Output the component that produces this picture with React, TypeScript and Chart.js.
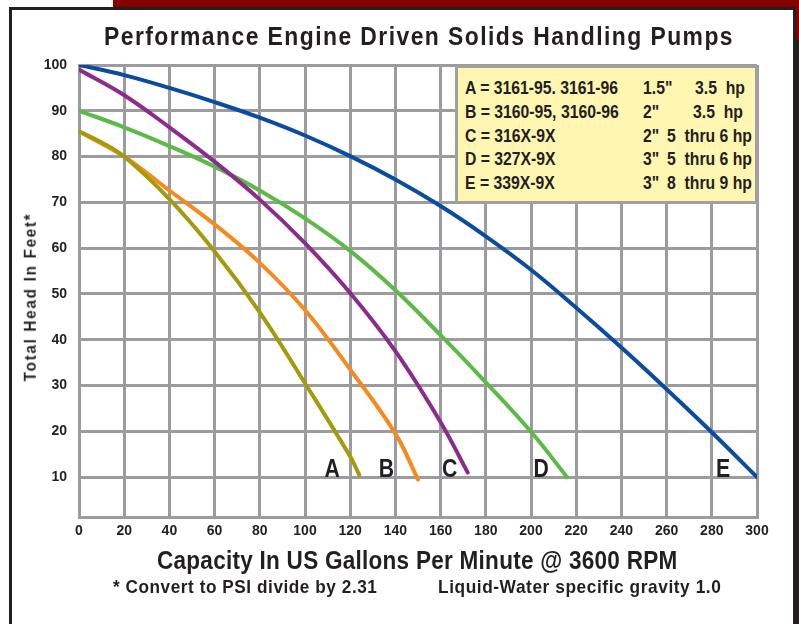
import React, { useEffect, useLayoutEffect, useRef } from 'react';
import { Chart, registerables } from 'chart.js';

Chart.register(...registerables);

// ---------- data ----------
const X_TICKS = [0, 20, 40, 60, 80, 100, 120, 140, 160, 180, 200, 220, 240, 260, 280, 300];
const Y_TICKS = [10, 20, 30, 40, 50, 60, 70, 80, 90, 100];

const A_X = [0, 10, 20, 40, 60, 80, 100, 120, 124];
const A_Y = [85.5, 83.1, 80, 70.7, 59.3, 46, 30.5, 14.5, 10.5];

const B_X = [0, 20, 40, 60, 80, 100, 120, 140, 150];
const B_Y = [85.5, 80, 72.6, 65.2, 56.8, 46.5, 33.5, 19.5, 9.5];

const C_X = [0, 20, 40, 60, 80, 100, 120, 140, 160, 172];
const C_Y = [99, 93.4, 86.4, 78.9, 70.6, 61.1, 50.2, 37.5, 22, 11];

const D_X = [0, 20, 40, 60, 80, 100, 120, 140, 160, 180, 200, 216];
const D_Y = [90, 86.4, 82.3, 77.8, 72.6, 66.5, 59.4, 50.8, 41, 30.7, 19.9, 10];

const E_X = [0, 20, 40, 60, 80, 100, 120, 140, 160, 180, 200, 220, 240, 260, 280, 300];
const E_Y = [100, 97.8, 95, 91.9, 88.5, 84.6, 80.1, 75, 69.2, 62.6, 55.3, 47, 38.3, 29.2, 19.8, 10];

const CURVE_NAMES = ['A', 'B', 'C', 'D', 'E'];
const CURVE_LABEL_X = [112, 136, 164, 204.5, 285];
const CURVE_LABEL_Y = 10;

const LEGEND_MODELS = ['A = 3161-95. 3161-96', 'B = 3160-95, 3160-96', 'C = 316X-9X', 'D = 327X-9X', 'E = 339X-9X'];
const LEGEND_SIZES = ['1.5"', '2"', '2"', '3"', '3"'];
const LEGEND_HP = ['3.5  hp', '3.5  hp', '5  thru 6 hp', '5  thru 6 hp', '8  thru 9 hp'];

const TITLE = 'Performance Engine Driven Solids Handling Pumps';
const X_TITLE = 'Capacity In US Gallons Per Minute @ 3600 RPM';
const Y_TITLE = 'Total Head In Feet*';
const NOTE_1 = '* Convert to PSI divide by 2.31';
const NOTE_2 = 'Liquid-Water specific gravity 1.0';

// ---------- styles ----------
const FONT = "'Liberation Sans', Arial, Helvetica, sans-serif";
const TEXT = '#231f20';
const GRID = '#9c9ca0';
const COLORS = ['#a39b0a', '#f68a1f', '#8c2a8e', '#5cba46', '#0a4c9f'];

const toPoints = (xs: number[], ys: number[]) => xs.map((x, i) => ({ x, y: ys[i] }));

const curveLabelPlugin = {
  id: 'curveLabels',
  afterDatasetsDraw(chart: any) {
    const { ctx, scales } = chart;
    const xs = scales.x;
    const ys = scales.y;
    ctx.save();
    ctx.font = `bold 25px ${FONT}`;
    ctx.fillStyle = TEXT;
    ctx.textAlign = 'center';
    ctx.textBaseline = 'alphabetic';
    CURVE_NAMES.forEach((t, i) => {
      ctx.save();
      ctx.translate(xs.getPixelForValue(CURVE_LABEL_X[i]), ys.getPixelForValue(CURVE_LABEL_Y) - 0.5);
      ctx.scale(0.85, 1);
      ctx.fillText(t, 0, 0);
      ctx.restore();
    });
    ctx.restore();
  },
};

type FitProps = {
  text: string;
  left: number;
  baseline: number;
  width: number;
  size: number;
  spacing?: number;
};

function FitText({ text, left, baseline, width, size, spacing = 0 }: FitProps) {
  const ref = useRef<HTMLSpanElement>(null);
  useLayoutEffect(() => {
    const el = ref.current;
    if (!el) return;
    const w = el.offsetWidth - spacing;
    el.style.transform = `scaleX(${width / w})`;
  }, [text, width, spacing]);
  return (
    <span
      ref={ref}
      style={{
        position: 'absolute',
        left,
        top: baseline - 0.8465 * size,
        fontSize: size,
        lineHeight: `${size}px`,
        letterSpacing: spacing,
        whiteSpace: 'pre',
        transformOrigin: '0 0',
      }}
    >
      {text}
    </span>
  );
}

function RotatedFitText({ text, cx, cy, length, size, spacing = 0 }: { text: string; cx: number; cy: number; length: number; size: number; spacing?: number }) {
  const ref = useRef<HTMLSpanElement>(null);
  useLayoutEffect(() => {
    const el = ref.current;
    if (!el) return;
    const w = el.offsetWidth - spacing;
    el.style.transform = `translate(-50%, -50%) rotate(-90deg) scaleX(${length / w})`;
  }, [text, length, spacing]);
  return (
    <span
      ref={ref}
      style={{
        position: 'absolute',
        left: cx,
        top: cy,
        fontSize: size,
        lineHeight: `${size * 1.15}px`,
        letterSpacing: spacing,
        whiteSpace: 'pre',
        transform: 'translate(-50%, -50%) rotate(-90deg)',
      }}
    >
      {text}
    </span>
  );
}

export default function App() {
  const ref = useRef<HTMLCanvasElement>(null);

  useEffect(() => {
    if (!ref.current) return;
    const series = [
      toPoints(A_X, A_Y),
      toPoints(B_X, B_Y),
      toPoints(C_X, C_Y),
      toPoints(D_X, D_Y),
      toPoints(E_X, E_Y),
    ];
    const tickFont = { family: FONT, size: 14, weight: 'bold' as const };
    const chart = new Chart(ref.current, {
      type: 'line',
      data: {
        datasets: series.map((d, i) => ({
          label: CURVE_NAMES[i],
          data: d,
          borderColor: COLORS[i],
          backgroundColor: COLORS[i],
          borderWidth: 4,
          pointRadius: 0,
          tension: 0.4,
          borderCapStyle: 'round' as const,
          fill: false,
        })),
      },
      options: {
        animation: false,
        responsive: false,
        devicePixelRatio: 1,
        layout: { padding: { top: 65, right: 42, left: 0, bottom: 0 } },
        plugins: {
          legend: { display: false },
          title: { display: false },
          tooltip: { enabled: false },
        },
        scales: {
          x: {
            type: 'linear',
            min: 0,
            max: 300,
            afterBuildTicks: (ax: any) => {
              ax.ticks = X_TICKS.map((v) => ({ value: v }));
            },
            afterFit: (s: any) => {
              s.height = 107;
            },
            grid: { color: GRID, lineWidth: 3, drawTicks: false },
            border: { color: GRID, width: 3 },
            ticks: { padding: 6, font: tickFont, color: TEXT, maxRotation: 0, autoSkip: false },
          },
          y: {
            type: 'linear',
            min: 1.3,
            max: 100,
            afterBuildTicks: (ax: any) => {
              ax.ticks = Y_TICKS.map((v) => ({ value: v }));
            },
            afterFit: (s: any) => {
              s.width = 79;
            },
            grid: { color: GRID, lineWidth: 3, drawTicks: false },
            border: { color: GRID, width: 3 },
            ticks: { padding: 12, font: tickFont, color: TEXT, autoSkip: false },
          },
        },
      },
      plugins: [curveLabelPlugin],
    });
    return () => chart.destroy();
  }, []);

  const abs = (o: React.CSSProperties): React.CSSProperties => ({ position: 'absolute', ...o });
  const LEGEND_SCALE = 0.875;
  const legendText = (t: string, left: number, i: number) => (
    <span
      style={abs({
        left,
        top: 88 + i * 23.8 - 12,
        fontSize: 18,
        lineHeight: '24px',
        whiteSpace: 'pre',
        transform: `scaleX(${LEGEND_SCALE})`,
        transformOrigin: '0 0',
      })}
    >
      {t}
    </span>
  );

  return (
    <div style={{ position: 'absolute', left: 0, top: 0, width: 799, height: 624, overflow: 'hidden', background: '#fff', fontFamily: FONT, color: TEXT, fontWeight: 'bold' }}>
      <div style={abs({ left: 113, top: 0, width: 686, height: 8, background: '#870000' })} />
      <div style={abs({ left: 796, top: 0, width: 3, height: 40, background: '#870000' })} />
      <div style={abs({ left: 796, top: 40, width: 3, height: 584, background: '#231f20' })} />
      <div style={abs({ left: 9, top: 7, width: 787, height: 700, border: '3px solid #231f20', boxSizing: 'border-box' })} />

      <canvas ref={ref} width={799} height={624} style={{ position: 'absolute', left: 0, top: 0, width: 799, height: 624 }} />

      <FitText text={TITLE} left={104} baseline={45.5} width={629} size={25.5} spacing={1.6} />
      <FitText text={X_TITLE} left={157} baseline={570} width={520} size={25.5} spacing={0.3} />
      <FitText text={NOTE_1} left={113} baseline={594} width={264} size={18.5} spacing={0.6} />
      <FitText text={NOTE_2} left={438} baseline={594} width={283} size={18.5} spacing={0.6} />
      <RotatedFitText text={Y_TITLE} cx={31} cy={297} length={167} size={16} spacing={1.8} />

      <div style={abs({ left: 455, top: 65, width: 303, height: 139, border: '3px solid #a0a0a0', background: '#fff6b2', boxSizing: 'border-box' })} />
      {LEGEND_MODELS.map((m, i) => (
        <React.Fragment key={m}>
          {legendText(m, 465, i)}
          {legendText(LEGEND_SIZES[i], 643, i)}
          {legendText(LEGEND_HP[i], i === 0 ? 695 : i === 1 ? 693 : 667, i)}
        </React.Fragment>
      ))}
    </div>
  );
}
